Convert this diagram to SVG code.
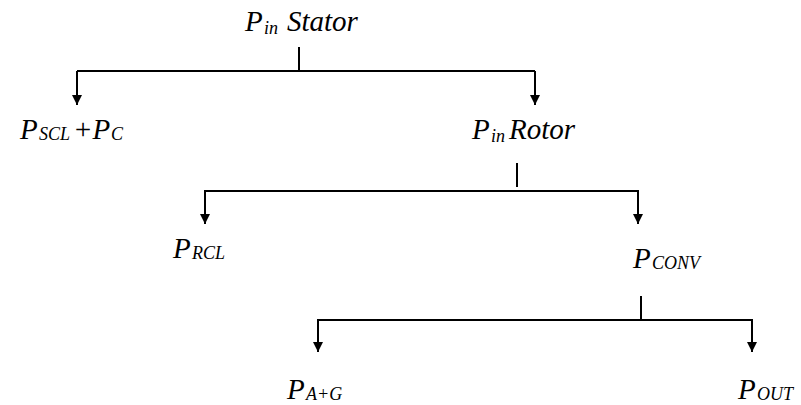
<svg xmlns="http://www.w3.org/2000/svg" width="801" height="405" viewBox="0 0 801 405">
<defs>
<marker id="ah" viewBox="0 0 10 10" refX="10" refY="5" markerWidth="10" markerHeight="10" markerUnits="userSpaceOnUse" orient="auto">
<path d="M0,0 L10,5 L0,10 Z" fill="#000"/>
</marker>
</defs>
<rect width="801" height="405" fill="#fff"/>
<g id="connectors" stroke="#000" stroke-width="2" fill="none">
<path d="M299,47 V71"/>
<path d="M77,71 H535"/>
<path d="M77,71 V105" marker-end="url(#ah)"/>
<path d="M535,71 V105" marker-end="url(#ah)"/>
<path d="M517,163 V187"/>
<path d="M205,191 H638"/>
<path d="M205,190 V224" marker-end="url(#ah)"/>
<path d="M638,190 V224" marker-end="url(#ah)"/>
<path d="M641,296 V320"/>
<path d="M318,320 H752"/>
<path d="M318,319 V352" marker-end="url(#ah)"/>
<path d="M752,319 V352" marker-end="url(#ah)"/>
</g>
<g id="n-pin-stator">
<text x="245" y="31" font-family="Liberation Serif" font-style="italic" font-size="29">P</text>
<text x="264" y="34" font-family="Liberation Serif" font-style="italic" font-size="18">in</text>
<text x="287" y="31" font-family="Liberation Serif" font-style="italic" font-size="29">Stator</text>
</g>
<g id="n-pscl-pc">
<text x="20" y="139" font-family="Liberation Serif" font-style="italic" font-size="29">P</text>
<text x="39" y="140" font-family="Liberation Serif" font-style="italic" font-size="18">SCL</text>
<text x="73" y="139" font-family="Liberation Serif" font-style="italic" font-size="29">+P</text>
<text x="111" y="140" font-family="Liberation Serif" font-style="italic" font-size="18">C</text>
</g>
<g id="n-pin-rotor">
<text x="472" y="139" font-family="Liberation Serif" font-style="italic" font-size="29">P</text>
<text x="491" y="142" font-family="Liberation Serif" font-style="italic" font-size="18">in</text>
<text x="509" y="139" font-family="Liberation Serif" font-style="italic" font-size="29">Rotor</text>
</g>
<g id="n-prcl">
<text x="173" y="258" font-family="Liberation Serif" font-style="italic" font-size="29">P</text>
<text x="192" y="259" font-family="Liberation Serif" font-style="italic" font-size="18">RCL</text>
</g>
<g id="n-pconv">
<text x="633" y="268" font-family="Liberation Serif" font-style="italic" font-size="29">P</text>
<text x="652" y="269" font-family="Liberation Serif" font-style="italic" font-size="18">CONV</text>
</g>
<g id="n-pag">
<text x="287" y="399" font-family="Liberation Serif" font-style="italic" font-size="29">P</text>
<text x="306" y="400" font-family="Liberation Serif" font-style="italic" font-size="18">A+G</text>
</g>
<g id="n-pout">
<text x="738" y="399" font-family="Liberation Serif" font-style="italic" font-size="29">P</text>
<text x="757" y="400" font-family="Liberation Serif" font-style="italic" font-size="18">OUT</text>
</g>
</svg>
